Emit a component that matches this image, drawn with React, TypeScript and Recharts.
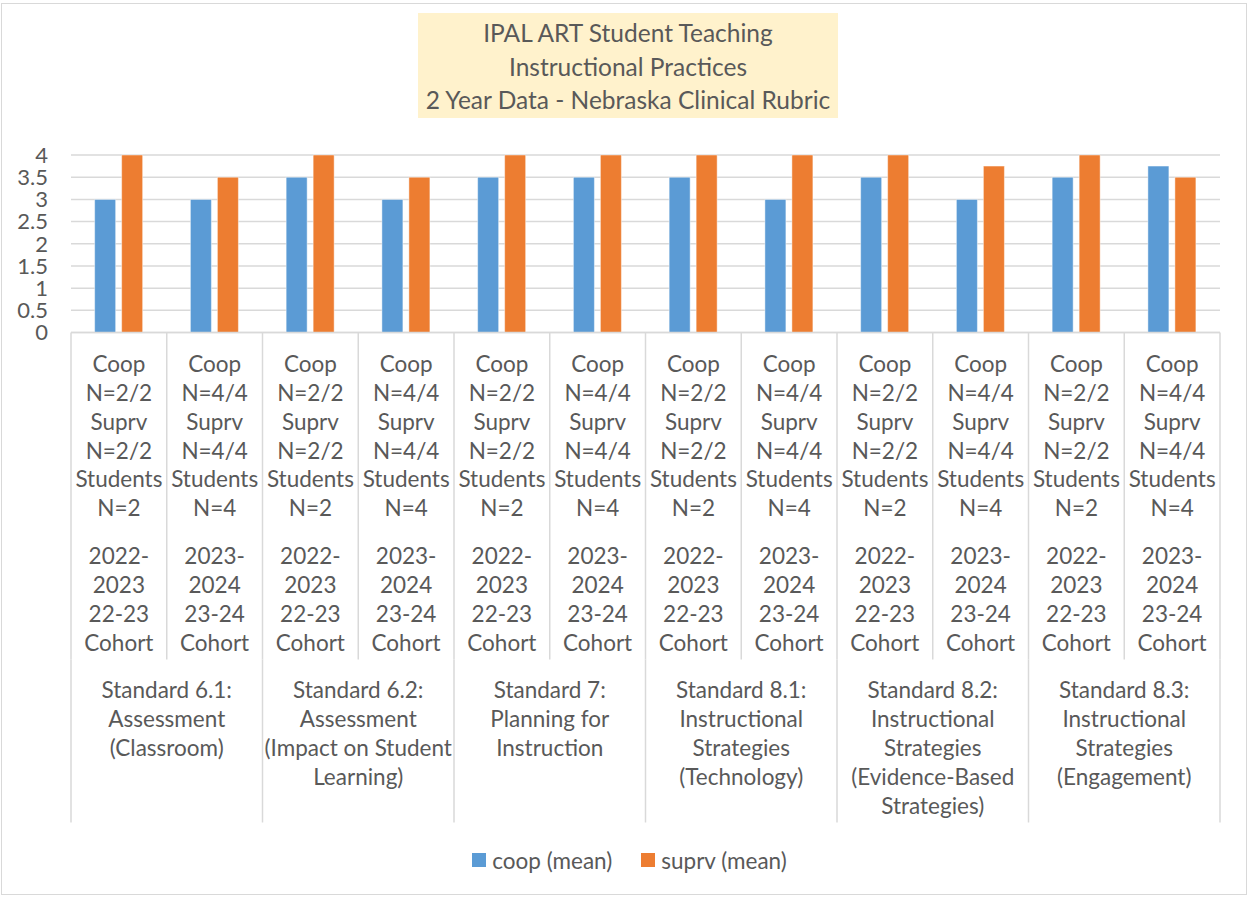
import React from "react";
import { BarChart, Bar, XAxis, YAxis, CartesianGrid, Legend } from "recharts";

const FONT = "Lato, 'Noto Sans', sans-serif";
const TEXT = "#595959";
const LINE = "#D9D9D9";

const titleLines = [
  "IPAL ART Student Teaching",
  "Instructional Practices",
  "2 Year Data - Nebraska Clinical Rubric",
];

const groupLabels = [
  ["Standard 6.1:", "Assessment", "(Classroom)"],
  ["Standard 6.2:", "Assessment", "(Impact on Student", "Learning)"],
  ["Standard 7:", "Planning for", "Instruction"],
  ["Standard 8.1:", "Instructional", "Strategies", "(Technology)"],
  ["Standard 8.2:", "Instructional", "Strategies", "(Evidence-Based", "Strategies)"],
  ["Standard 8.3:", "Instructional", "Strategies", "(Engagement)"],
];

const cohortLabels = [
  ["Coop", "N=2/2", "Suprv", "N=2/2", "Students", "N=2", "", "2022-", "2023", "22-23", "Cohort"],
  ["Coop", "N=4/4", "Suprv", "N=4/4", "Students", "N=4", "", "2023-", "2024", "23-24", "Cohort"],
];

const coopMeans = [3, 3, 3.5, 3, 3.5, 3.5, 3.5, 3, 3.5, 3, 3.5, 3.75];
const suprvMeans = [4, 3.5, 4, 3.5, 4, 4, 4, 4, 4, 3.75, 4, 3.5];

const yTicks = [0, 0.5, 1, 1.5, 2, 2.5, 3, 3.5, 4];

const data = coopMeans.map((c, i) => ({
  key: `c${i}`,
  group: `g${Math.floor(i / 2)}`,
  groupIndex: Math.floor(i / 2),
  cohortIndex: i % 2,
  coop: c,
  suprv: suprvMeans[i],
}));

const AXIS1_H = 327;
const AXIS2_H = 163;
const FS = 22.5;

function bandOf(props: any) {
  const { payload, width, visibleTicksCount } = props;
  if (payload && typeof payload.offset === "number" && payload.offset > 0) return payload.offset * 2;
  return width / visibleTicksCount;
}

const CohortTick = (props: any) => {
  const { x, y, payload, visibleTicksCount } = props;
  const band = bandOf(props);
  const idx = payload.index;
  const lines = cohortLabels[data[idx].cohortIndex];
  const left = x - band / 2;
  let cy = y + 39.3;
  const spans: React.ReactNode[] = [];
  lines.forEach((l, i) => {
    if (l === "") {
      cy += 18.8;
      return;
    }
    spans.push(
      <text key={i} x={x} y={cy} textAnchor="middle" fill={TEXT} fontFamily={FONT} fontSize={FS}>
        {l}
      </text>
    );
    cy += 28.9;
  });
  return (
    <g>
      <line x1={left} x2={left} y1={y} y2={y + AXIS1_H} stroke={LINE} strokeWidth={1.5} />
      {idx === visibleTicksCount - 1 && (
        <line x1={left + band} x2={left + band} y1={y} y2={y + AXIS1_H} stroke={LINE} strokeWidth={1.5} />
      )}
      {spans}
    </g>
  );
};

const GroupTick = (props: any) => {
  const { x, y, payload, visibleTicksCount, index } = props;
  const band = bandOf(props);
  const gi = typeof index === "number" ? index : payload.index;
  const lines = groupLabels[gi] || [];
  const left = x - band / 2;
  return (
    <g>
      <line x1={left} x2={left} y1={y} y2={y + AXIS2_H} stroke={LINE} strokeWidth={1.5} />
      {gi === visibleTicksCount - 1 && (
        <line x1={left + band} x2={left + band} y1={y} y2={y + AXIS2_H} stroke={LINE} strokeWidth={1.5} />
      )}
      {lines.map((l, i) => (
        <text key={i} x={x} y={y + 38 + i * 29} textAnchor="middle" fill={TEXT} fontFamily={FONT} fontSize={FS}>
          {l}
        </text>
      ))}
    </g>
  );
};

const LegendContent = (props: any) => {
  const payload = props.payload || [];
  return (
    <div
      style={{
        display: "flex",
        justifyContent: "center",
        alignItems: "center",
        height: 30,
        fontFamily: FONT,
        fontSize: FS,
        color: TEXT,
      }}
    >
      {payload.map((p: any, i: number) => (
        <div key={i} style={{ display: "flex", alignItems: "center", marginLeft: i ? 29 : 0 }}>
          <span style={{ width: 14, height: 14, background: p.color, marginRight: 6, display: "inline-block" }} />
          <span>{p.value}</span>
        </div>
      ))}
    </div>
  );
};

export default function App() {
  return (
    <div style={{ position: "relative", width: 1249, height: 897, background: "#fff", overflow: "hidden" }}>
      <style>{"body{margin:0;}"}</style>
      <div
        style={{
          position: "absolute",
          left: 1,
          top: 3,
          width: 1246,
          height: 892,
          border: `1.5px solid ${LINE}`,
          boxSizing: "border-box",
        }}
      />
      <div
        style={{
          position: "absolute",
          left: 418,
          top: 13,
          width: 420,
          height: 105,
          background: "#FFF2CC",
          fontFamily: FONT,
          fontSize: 24.5,
          color: TEXT,
          textAlign: "center",
          boxSizing: "border-box",
          paddingTop: 3,
          lineHeight: "33.5px",
          zIndex: 2,
        }}
      >
        {titleLines.map((t, i) => (
          <div key={i}>{t}</div>
        ))}
      </div>
      <div style={{ position: "absolute", left: 0, top: 0 }}>
        <BarChart
          width={1249}
          height={897}
          data={data}
          margin={{ top: 155, right: 29, left: 0, bottom: 44.5 }}
          barCategoryGap="24.7%"
          barGap={6}
        >
          <CartesianGrid vertical={false} stroke={LINE} strokeWidth={1.5} />
          <XAxis
            dataKey="key"
            height={AXIS1_H}
            interval={0}
            tickLine={false}
            tickSize={0}
            tickMargin={0}
            axisLine={{ stroke: LINE, strokeWidth: 1.5 }}
            tick={<CohortTick />}
          />
          <XAxis
            xAxisId="grp"
            dataKey="group"
            allowDuplicatedCategory={false}
            height={AXIS2_H}
            interval={0}
            tickLine={false}
            tickSize={0}
            tickMargin={0}
            axisLine={false}
            tick={<GroupTick />}
          />
          <YAxis
            width={71}
            domain={[0, 4]}
            ticks={yTicks}
            interval={0}
            axisLine={false}
            tickLine={false}
            tickMargin={17}
            tick={{ fill: TEXT, fontFamily: FONT, fontSize: 22 }}
          />
          <Legend
            content={<LegendContent />}
            verticalAlign="bottom"
            wrapperStyle={{ top: 845, bottom: "auto", left: 0, width: 1259, height: 30 }}
          />
          <Bar dataKey="coop" name="coop (mean)" fill="#5B9BD5" stroke="#ffffff" strokeOpacity={0.45} strokeWidth={1} isAnimationActive={false} />
          <Bar dataKey="suprv" name="suprv (mean)" fill="#ED7D31" stroke="#ffffff" strokeOpacity={0.45} strokeWidth={1} isAnimationActive={false} />
        </BarChart>
      </div>
    </div>
  );
}
